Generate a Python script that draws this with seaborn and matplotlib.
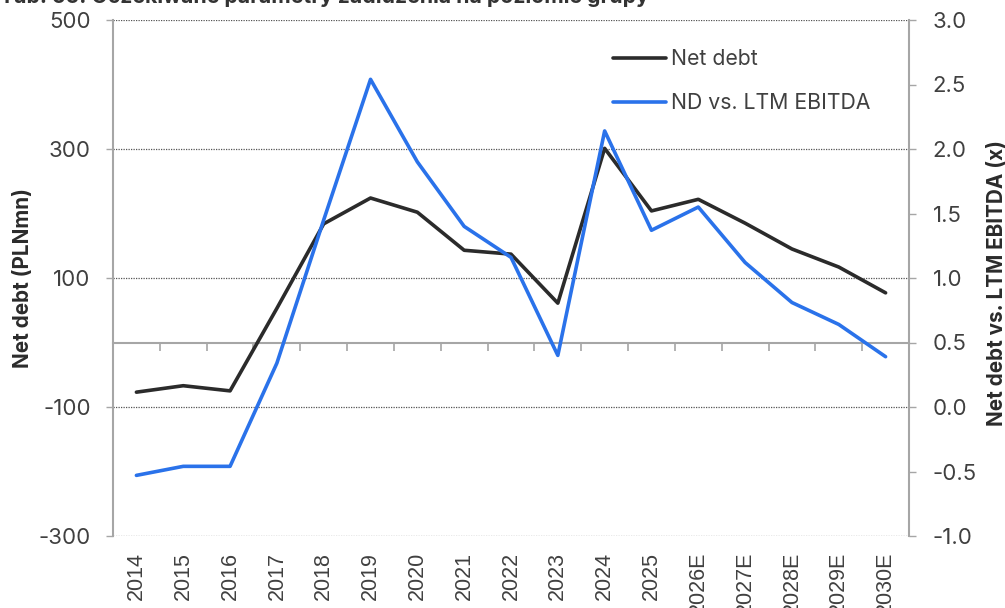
import numpy as np
import pandas as pd
import matplotlib
matplotlib.use("Agg")
import matplotlib.pyplot as plt
import seaborn as sns
from matplotlib.lines import Line2D

years = ['2014', '2015', '2016', '2017', '2018', '2019', '2020', '2021', '2022',
         '2023', '2024', '2025', '2026E', '2027E', '2028E', '2029E', '2030E']
net_debt = [-77, -67, -75, 53, 184, 224, 202, 143, 137, 61, 301, 204, 222, 185, 145, 117, 77]
nd_ebitda = [-0.53, -0.46, -0.46, 0.34, 1.45, 2.54, 1.90, 1.40, 1.16, 0.40, 2.14, 1.37,
             1.55, 1.12, 0.81, 0.64, 0.39]
left_ticks = [-300, -100, 100, 300, 500]
right_ticks = [-1.0, -0.5, 0.0, 0.5, 1.0, 1.5, 2.0, 2.5, 3.0]
title_text = "Tab. 55: Oczekiwane parametry zadłużenia na poziomie grupy"
series_names = ["Net debt", "ND vs. LTM EBITDA"]
left_label = "Net debt (PLNmn)"
right_label = "Net debt vs. LTM EBITDA (x)"

sns.set_theme(style="white")
plt.rcParams['font.family'] = ['Inter', 'DejaVu Sans']
plt.rcParams['axes.unicode_minus'] = False

BLACK = "#2b2b2b"
BLUE = "#2a72ea"
GRAY = "#a6a6a6"
TXT = "#404040"

df = pd.DataFrame({"pos": np.arange(len(years)), "year": years,
                   "net_debt": net_debt, "nd_ebitda": nd_ebitda})

fig = plt.figure(figsize=(10.05, 6.08), dpi=100)
W, H = 1005, 608
ax = fig.add_axes([113 / W, 1 - 536 / H, (909 - 113) / W, (536 - 20) / H])
ax2 = ax.twinx()

sns.lineplot(data=df, x="pos", y="net_debt", ax=ax, color=BLACK, linewidth=2.6, sort=False)
sns.lineplot(data=df, x="pos", y="nd_ebitda", ax=ax2, color=BLUE, linewidth=2.6, sort=False)

n = len(years)
ax.set_xlim(-0.5, n - 0.5)
ax.set_ylim(-300, 500)
ax2.set_ylim(-1.0, 3.0)

ax.set_yticks(left_ticks)
ax.set_yticklabels([str(v) for v in left_ticks])
ax2.set_yticks(right_ticks)
ax2.set_yticklabels([f"{v:.1f}" for v in right_ticks])

ax.set_xticks(df["pos"])
ax.set_xticklabels(years, rotation=90, fontfamily=['Liberation Sans', 'DejaVu Sans'])

ax.yaxis.grid(True, linestyle=(0, (1, 1)), color="#555555", linewidth=0.9)
ax.xaxis.grid(False)
ax2.grid(False)

for a in (ax, ax2):
    for s in a.spines.values():
        s.set_visible(False)
ax.spines['left'].set_visible(True)
ax.spines['left'].set_color(GRAY)
ax.spines['left'].set_linewidth(1.5)
ax2.spines['right'].set_visible(True)
ax2.spines['right'].set_color(GRAY)
ax2.spines['right'].set_linewidth(1.5)

ax.tick_params(axis='y', which='major', direction='out', length=5, width=1, color=GRAY,
               labelsize=16, labelcolor=TXT, pad=11, left=True)
ax2.tick_params(axis='y', which='major', direction='out', length=5, width=1, color=GRAY,
                labelsize=16, labelcolor=TXT, pad=12, right=True)
ax.tick_params(axis='x', length=0, labelsize=15.5, labelcolor=TXT, pad=11.5)

# zero axis line with category boundary ticks
zero_frac = (0 - (-300)) / (500 - (-300))
sec = ax.secondary_xaxis(zero_frac)
sec.set_xticks(np.arange(n + 1) - 0.5)
sec.set_xticklabels([])
sec.spines['bottom'].set_color(GRAY)
sec.spines['bottom'].set_linewidth(1.5)
sec.tick_params(axis='x', direction='out', length=6, width=1.2, color=GRAY)

ax.set_xlabel("")
ax.set_ylabel("")
ax2.set_ylabel("")
fig.text(23 / W, 1 - 278 / H, left_label, rotation=90, ha='center', va='center',
         fontsize=14.9, fontweight='bold', color=BLACK)
fig.text(997 / W, 1 - 283 / H, right_label, rotation=90, ha='center', va='center',
         fontsize=14.9, fontweight='bold', color=BLACK)

handles = [Line2D([], [], color=BLACK, linewidth=2.6),
           Line2D([], [], color=BLUE, linewidth=2.6)]
fig.legend(handles, series_names, loc='upper left', bbox_to_anchor=(613 / W, 1 - 49 / H),
           frameon=False, fontsize=15.3, handlelength=2.5, handletextpad=0.22,
           labelspacing=1.15, borderpad=0, borderaxespad=0, labelcolor=TXT)

fig.text(0.0, 1 - 3 / H, title_text, fontsize=15.3, fontweight='bold', color="#333333",
         ha='left', va='baseline')

fig.savefig("out.png", dpi=100)
